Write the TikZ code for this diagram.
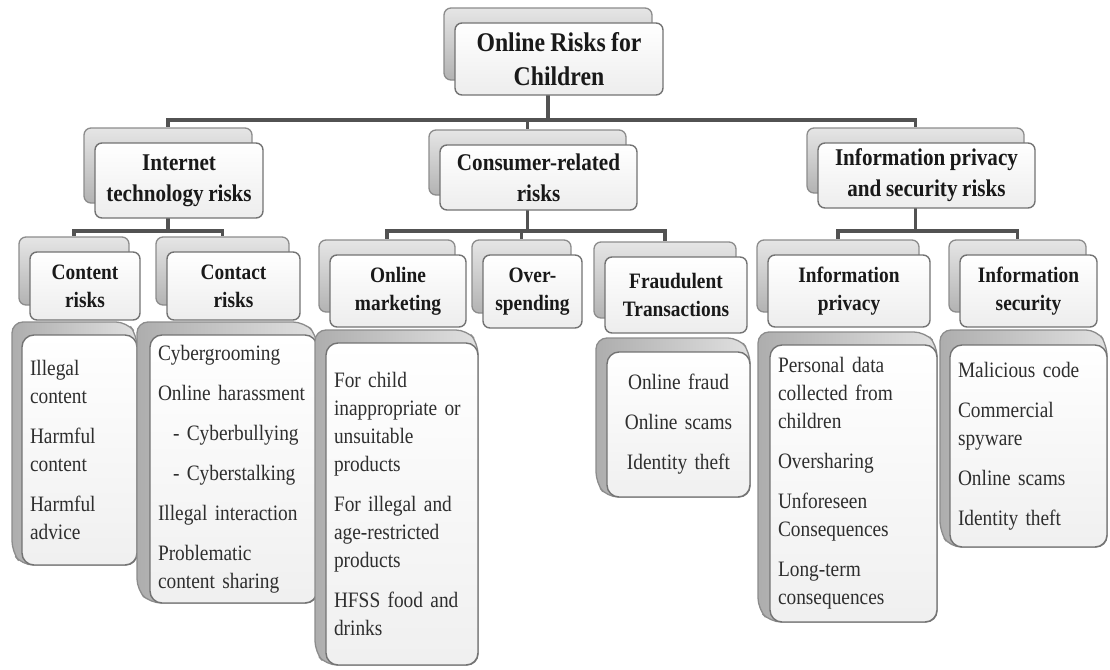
\documentclass[tikz,border=0pt]{standalone}
\usepackage{fontspec}
\setmainfont{Liberation Serif}[FakeStretch=0.88, WordSpace=0.88]
\usetikzlibrary{calc,backgrounds}
\hyphenpenalty=10000
\exhyphenpenalty=10000
\tikzset{
  frontbox/.style={draw=black!55, line width=1.4pt, rounded corners=7pt,
    top color=white, bottom color=black!7, inner xsep=8pt, inner ysep=2pt, text=black!90},
  listbox/.style={draw=black!55, line width=1.4pt, rounded corners=12pt,
    top color=white, bottom color=black!6, inner xsep=8pt, inner ysep=2pt, text=black!82,
    font=\fontsize{22}{28}\selectfont, align=left},
  backbox/.style={draw=black!45, line width=1.3pt, rounded corners=7pt,
    top color=black!10, bottom color=black!30},
  listback/.style={draw=black!45, line width=1.3pt, rounded corners=11pt,
    left color=black!32, right color=black!12},
  conn/.style={draw=black!68, line width=3.6pt},
  rootfont/.style={font=\fontsize{27}{34}\selectfont\bfseries, align=center},
  lonefont/.style={font=\fontsize{24}{31}\selectfont\bfseries, align=center},
  ltwofont/.style={font=\fontsize{22}{28}\selectfont\bfseries, align=center},
}
% name, cx, cy, w, h, style, text
\newcommand\mkhead[7]{%
  \node[backbox, minimum width=#4, minimum height=#5] (#1B) at ($(#2,#3)+(-11,-15)$) {};
  \node[frontbox, minimum width=#4, minimum height=#5, #6] (#1) at (#2,#3) {#7};
}
% name, cx, cy, w, h, dx, dy, style, text
\newcommand\mklist[9]{%
  \coordinate (#1c) at (#2,#3);
  \draw[listback] ($(#1c)+(-#4/2-#6,-#5/2-#7)$) -- ($(#1c)+(#4/2-#6,-#5/2-#7)$)
    -- ($(#1c)+(#4/2,-#5/2)$) -- ($(#1c)+(#4/2,#5/2)$) -- ($(#1c)+(-#4/2,#5/2)$)
    -- ($(#1c)+(-#4/2-#6,#5/2-#7)$) -- cycle;
  \node[listbox, minimum width=#4, minimum height=#5,
    text width=\dimexpr #4pt-16pt\relax, #8] (#1) at (#1c) {#9};
}
\begin{document}
\begin{tikzpicture}[x=1pt, y=-1pt]
\useasboundingbox (0,0) rectangle (1110,669);
\coordinate (busA) at (0,120);
\coordinate (busB) at (0,231);

\mkhead{root}{559}{59}{208}{72}{rootfont}{Online Risks for\\Children}
\mkhead{inet}{179}{180.5}{168}{75}{lonefont}{Internet\\technology risks}
\mkhead{cons}{538.5}{177.5}{197}{65}{lonefont}{Consumer-related\\risks}
\mkhead{info}{926.5}{175.5}{217}{65}{lonefont}{Information privacy\\and security risks}
\mkhead{cont}{85}{286}{110}{68}{ltwofont}{Content\\risks}
\mkhead{cnct}{233.5}{286}{133}{68}{ltwofont}{Contact\\risks}
\mkhead{mark}{398}{291}{136}{72}{ltwofont}{Online\\marketing}
\mkhead{over}{532.5}{291.5}{99}{73}{ltwofont}{Over-\\spending}
\mkhead{frau}{676}{295}{142}{76}{ltwofont}{Fraudulent\\Transactions}
\mkhead{priv}{849}{291}{162}{72}{ltwofont}{Information\\privacy}
\mkhead{secu}{1028.5}{291}{137}{72}{ltwofont}{Information\\security}

\mklist{contL}{79.5}{450}{115}{230}{10}{13}{}{Illegal\\content\\[12pt]Harmful\\content\\[12pt]Harmful\\advice}
\mklist{cnctL}{233.5}{469}{167}{268}{13}{13}{}{Cybergrooming\\[12pt]Online harassment\\[12pt]\hspace*{15pt}- Cyberbullying\\[12pt]\hspace*{15pt}- Cyberstalking\\[12pt]Illegal interaction\\[12pt]Problematic\\content sharing}
\mklist{markL}{402}{504}{152}{322}{11}{13}{}{For child\\inappropriate or\\unsuitable\\products\\[12pt]For illegal and\\age-restricted\\products\\[12pt]HFSS food and\\drinks}
\mklist{frauL}{678.5}{424.5}{143}{145}{11}{14}{align=center}{Online fraud\\[12pt]Online scams\\[12pt]Identity theft}
\mklist{privL}{853.5}{483.5}{167}{277}{12}{13}{}{Personal data\\collected from\\children\\[12pt]Oversharing\\[12pt]Unforeseen\\Consequences\\[12pt]Long-term\\consequences}
\mklist{secuL}{1028.5}{446}{157}{202}{10}{15}{}{Malicious code\\[12pt]Commercial\\spyware\\[12pt]Online scams\\[12pt]Identity theft}

\begin{pgfonlayer}{background}
\draw[conn] (rootB.south) -- (rootB.south |- busA) -| (inetB.north);
\draw[conn] (rootB.south) -- (rootB.south |- busA) -| (consB.north);
\draw[conn] (rootB.south) -- (rootB.south |- busA) -| (infoB.north);
\draw[conn] (inetB.south) -- (inetB.south |- busB) -| (contB.north);
\draw[conn] (inetB.south) -- (inetB.south |- busB) -| (cnctB.north);
\draw[conn] (consB.south) -- (consB.south |- busB) -| (markB.north);
\draw[conn] (consB.south) -- (consB.south |- busB) -| (overB.north);
\draw[conn] (consB.south) -- (consB.south |- busB) -| (frauB.north);
\draw[conn] (infoB.south) -- (infoB.south |- busB) -| (privB.north);
\draw[conn] (infoB.south) -- (infoB.south |- busB) -| (secuB.north);
\end{pgfonlayer}
\end{tikzpicture}
\end{document}
